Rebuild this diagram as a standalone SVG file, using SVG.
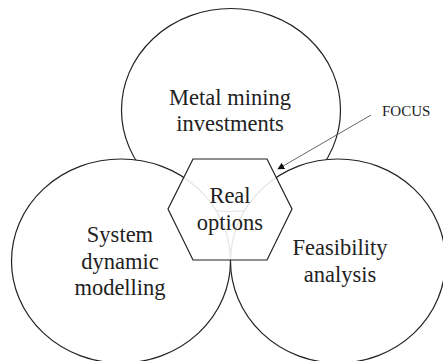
<svg xmlns="http://www.w3.org/2000/svg" width="443" height="361" viewBox="0 0 443 361">
<defs>
<style>
.c{fill:#fff;stroke:#222;stroke-width:1.2}
.t{font-family:"Liberation Serif","Times New Roman",serif;font-size:22.5px;fill:#222;text-anchor:middle}
.f{font-family:"Liberation Serif","Times New Roman",serif;font-size:15px;fill:#222}
</style>
<marker id="ah" viewBox="0 0 10 10" refX="9" refY="5" markerWidth="7" markerHeight="7" orient="auto" markerUnits="userSpaceOnUse">
<path d="M0,0 L10,5 L0,10 z" fill="#111"/>
</marker>
</defs>
<rect width="443" height="361" fill="#fff"/>
<g id="metal-mining">
<ellipse class="c" cx="231" cy="110" rx="109.5" ry="101.5"/>
</g>
<g id="system-dynamic">
<ellipse class="c" cx="121" cy="261" rx="109.5" ry="102"/>
</g>
<g id="feasibility">
<ellipse class="c" cx="338" cy="261" rx="107.5" ry="102"/>
</g>
<g id="real-options">
<polygon points="193,159 267,159 292,209 267,260 193,260 168,209" fill="#fff" fill-opacity="0.88" stroke="#222" stroke-width="1.2"/>
</g>
<g id="labels">
<text class="t" x="230" y="105">Metal mining</text>
<text class="t" x="230" y="131">investments</text>
<text class="t" x="230" y="203">Real</text>
<text class="t" x="230" y="230">options</text>
<text class="t" x="120" y="242">System</text>
<text class="t" x="120" y="269">dynamic</text>
<text class="t" x="120" y="295">modelling</text>
<text class="t" x="340" y="255">Feasibility</text>
<text class="t" x="340" y="282">analysis</text>
</g>
<g id="focus">
<text class="f" x="382" y="116">FOCUS</text>
</g>
<g id="connectors">
<line x1="371" y1="115" x2="278" y2="169" stroke="#555" stroke-width="0.9" marker-end="url(#ah)"/>
</g>
</svg>
